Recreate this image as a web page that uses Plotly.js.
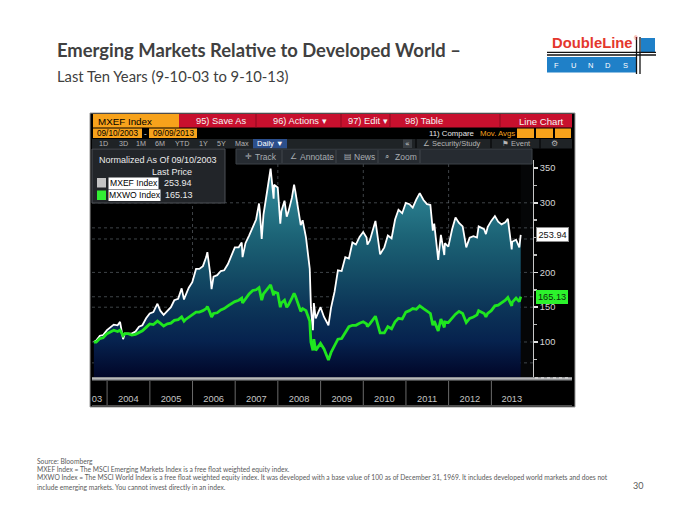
<!DOCTYPE html>
<html>
<head>
<meta charset="utf-8">
<script src="https://cdn.plot.ly/plotly-3.0.1.min.js"></script>
<style>html,body{margin:0;padding:0;background:#fff;}#chart{width:700px;height:525px;}</style>
</head>
<body>
<div id="chart"></div>
<script>
// ---------------- DATA (normalized to 100 on 09/10/2003) ----------------
const dates = [
'2003-09-10','2003-09-30','2003-10-31','2003-11-28','2003-12-31',
'2004-01-30','2004-02-27','2004-03-31','2004-04-21','2004-05-17','2004-05-31','2004-06-30','2004-07-30','2004-08-31','2004-09-30','2004-10-29','2004-11-30','2004-12-31',
'2005-01-31','2005-03-07','2005-03-31','2005-04-29','2005-05-31','2005-06-30','2005-07-29','2005-08-31','2005-09-30','2005-10-20','2005-10-31','2005-11-30','2005-12-30',
'2006-01-31','2006-02-28','2006-03-31','2006-04-28','2006-05-08','2006-05-31','2006-06-13','2006-06-30','2006-07-31','2006-08-31','2006-09-29','2006-10-31','2006-11-30','2006-12-29',
'2007-01-31','2007-02-26','2007-03-05','2007-03-30','2007-04-30','2007-05-31','2007-06-29','2007-07-24','2007-07-31','2007-08-16','2007-08-31','2007-09-28','2007-10-31','2007-11-26','2007-11-30','2007-12-31',
'2008-01-22','2008-01-31','2008-02-27','2008-03-17','2008-03-31','2008-04-30','2008-05-19','2008-05-30','2008-06-30','2008-07-15','2008-07-31','2008-08-29','2008-09-30','2008-10-10','2008-10-27','2008-11-04','2008-11-20','2008-12-31',
'2009-01-30','2009-02-27','2009-03-09','2009-03-31','2009-04-30','2009-05-29','2009-06-30','2009-07-31','2009-08-31','2009-09-30','2009-10-30','2009-11-30','2009-12-31',
'2010-01-29','2010-02-05','2010-02-26','2010-03-31','2010-04-15','2010-05-25','2010-06-30','2010-07-30','2010-08-31','2010-09-30','2010-10-29','2010-11-30','2010-12-31',
'2011-01-31','2011-02-28','2011-03-31','2011-04-29','2011-05-31','2011-06-30','2011-07-29','2011-08-19','2011-08-31','2011-10-04','2011-10-27','2011-11-25','2011-11-30','2011-12-30',
'2012-01-31','2012-02-29','2012-03-30','2012-04-30','2012-05-31','2012-06-29','2012-07-31','2012-08-31','2012-09-14','2012-10-31','2012-11-15','2012-11-30','2012-12-31',
'2013-01-31','2013-02-28','2013-03-29','2013-04-30','2013-05-22','2013-06-24','2013-06-28','2013-07-31','2013-08-28','2013-09-09'
];
const mxef = [
100,102,109,110,117,
121,125,124,129,104,112,112,112,115,122,124,134,141,
143,155,145,139,145,150,160,162,177,161,166,178,186,
205,205,209,222,229,200,176,194,196,202,203,212,225,236,
236,243,222,242,253,265,276,299,288,248,283,313,349,306,326,322,
270,288,303,280,287,307,326,316,287,268,275,250,205,150,117,156,134,150,
136,126,124,149,172,203,202,222,220,243,240,251,258,
250,240,246,264,274,226,236,253,249,276,290,285,300,
298,293,305,314,304,298,297,260,270,218,254,225,242,237,
262,279,271,266,236,250,252,250,266,262,255,265,274,
281,273,269,272,277,233,244,247,236,253.94
];
const mxwo = [
100,100,105,106,112,
115,117,115,117,109,112,112,110,111,114,116,121,126,
125,130,127,123,126,127,131,132,136,130,132,136,139,
143,143,145,148,151,142,136,141,142,146,148,152,155,158,
160,163,156,162,169,174,175,178,172,160,169,175,182,167,172,170,
150,156,160,150,153,163,170,166,150,144,148,145,130,100,88,104,88,98,
90,80,74,85,95,104,105,113,122,124,124,127,129,
126,122,126,134,137,113,113,122,119,129,134,133,143,
145,148,147,152,148,144,141,124,130,116,133,121,129,128,
134,140,144,141,128,134,136,139,145,141,136,141,145,
152,153,156,160,164,152,157,163,158,165.13
];
const seriesNames = ['MXEF Index', 'MXWO Index'];
const yTicks = [100, 150, 200, 300, 350];          // 250 is hidden under the last-price box
const yMinor = [75, 125, 175, 225, 250, 275, 325];
const gridVals = [300, 264, 248, 200, 165, 150, 100, 70];
const yearLabels = ['03','2004','2005','2006','2007','2008','2009','2010','2011','2012','2013'];
const yearLabelDates = ['2003-10-06','2004-07-01','2005-07-01','2006-07-01','2007-07-01','2008-07-01','2009-07-01','2010-07-01','2011-07-01','2012-07-01','2013-06-25'];
const yearStarts = ['2004-01-01','2005-01-01','2006-01-01','2007-01-01','2008-01-01','2009-01-01','2010-01-01','2011-01-01','2012-01-01','2013-01-01'];
const gridYears = ['2006-01-01','2008-01-01','2010-01-01','2012-01-01'];
const baseDate = '09/10/2003';
const endDate = '09/09/2013';

// ---------------- GEOMETRY HELPERS ----------------
const L = 92, R = 533, T = 160, B = 377;
const W = R - L, H = B - T;
const px = x => (x - L) / W;
const py = y => (B - y) / H;
const BB = "'Liberation Sans', Arial, sans-serif";
const SYM = "'DejaVu Sans', sans-serif";
const SLIDE = "Lato, 'Liberation Sans', sans-serif";

const shapes = [];
const annotations = [];
function rect(x0, y0, x1, y1, fill, line, layer, lw) {
  shapes.push({type:'rect', xref:'paper', yref:'paper', x0:px(x0), x1:px(x1), y0:py(y1), y1:py(y0),
    fillcolor: fill, line:{color: line || 'rgba(0,0,0,0)', width: lw || (line ? 1 : 0)}, layer: layer || 'above'});
}
function seg(x0, y0, x1, y1, color, width, dash, layer) {
  shapes.push({type:'line', xref:'paper', yref:'paper', x0:px(x0), x1:px(x1), y0:py(y0), y1:py(y1),
    line:{color: color, width: width || 1, dash: dash || 'solid'}, layer: layer || 'above'});
}
function txt(x, y, text, size, color, family, xanchor, extra) {
  annotations.push(Object.assign({xref:'paper', yref:'paper', x:px(x), y:py(y), text:text, showarrow:false,
    xanchor: xanchor || 'left', yanchor:'middle', font:{size:size, color:color, family: family || BB}}, extra || {}));
}

// ---------------- BLOOMBERG FRAME ----------------
rect(90, 113, 575, 407, '#000000', '#9a9a9a', 'below');
// row 1
rect(93, 114, 179, 127.5, '#f7a21b');
rect(179, 114, 572, 127.5, '#c8102e');
[256, 341, 390, 500].forEach(x => seg(x, 114, x, 127.5, '#8a0a1e', 1));
txt(96, 121, 'MXEF Index', 9.8, '#000000');
txt(194, 121, '95) Save As', 9.3, '#f4f4f4');
txt(271, 121, '96) Actions ▾', 9.3, '#f4f4f4');
txt(346, 121, '97) Edit ▾', 9.3, '#f4f4f4');
txt(403, 121, '98) Table', 9.3, '#f4f4f4');
txt(566, 121, 'Line Chart', 9.6, '#f4f4f4', BB, 'right');
// row 2
rect(93, 128.5, 142, 138, '#f7a21b');
rect(149, 128.5, 197, 138, '#f7a21b');
txt(117.5, 133.5, baseDate, 8.2, '#000000', BB, 'center');
txt(145.5, 133.5, '-', 8, '#ffffff', BB, 'center');
txt(173, 133.5, endDate, 8.2, '#000000', BB, 'center');
txt(476, 133.5, '11) Compare', 7.8, '#e6e6e6', BB, 'right');
txt(478, 133.5, 'Mov. Avgs', 7.8, '#f7a21b');
rect(517, 128.5, 534, 138, '#f7a21b');
rect(536, 128.5, 553, 138, '#f7a21b');
rect(555, 128.5, 571, 138, '#f7a21b');
// row 3
rect(92, 139, 572, 148.5, '#1f2326');
const btns = [['1D',103],['3D',123],['1M',141],['6M',160],['YTD',182],['1Y',203],['5Y',221],['Max',242]];
btns.forEach(b => txt(b[1], 143.8, b[0], 7.2, '#b5b5b5', BB, 'center'));
rect(253, 139, 287, 148.5, '#2c4f8c');
txt(270, 143.8, 'Daily ▼', 7.6, '#ffffff', BB, 'center');
rect(403, 139.5, 412, 148, '#3a3f44');
txt(407.5, 143.8, '«', 7.5, '#cfcfcf', SYM, 'center');
txt(421, 143.8, '∠', 7.5, '#b5b5b5', SYM);
txt(430, 143.8, 'Security/Study', 7.5, '#b5b5b5');
txt(500, 143.8, '⚑', 7.5, '#b5b5b5', SYM);
txt(509, 143.8, 'Event', 7.5, '#b5b5b5');
txt(554, 143.8, '⚙', 8, '#b5b5b5', SYM, 'center');
[416, 491, 540].forEach(x => seg(x, 139, x, 148.5, '#000000', 1));

// ---------------- PLOT AREA DECORATION ----------------
shapes.push({type:'rect', xref:'x', yref:'paper', x0: dates[dates.length-1], x1: '2014-01-31', y0:0, y1:1,
  fillcolor:'#050607', line:{width:0}, layer:'below'});
gridVals.forEach(v => shapes.push({type:'line', xref:'paper', yref:'y', x0:0, x1:1, y0:v, y1:v,
  line:{color:'rgba(140,150,160,0.45)', width:1, dash:'dot'}, layer:'below'}));
gridYears.forEach(d => shapes.push({type:'line', xref:'x', yref:'paper', x0:d, x1:d, y0:0, y1:1,
  line:{color:'rgba(140,150,160,0.45)', width:1, dash:'dot'}, layer:'below'}));
rect(92, 377, 572, 380.5, '#8d8f92');
seg(92, 378.6, 572, 378.6, '#c9c9c9', 0.8);
seg(535, 377.8, 570, 377.8, '#dcdcdc', 1.2, 'dot');
yearStarts.forEach(d => shapes.push({type:'line', xref:'x', yref:'paper', x0:d, x1:d, y0:py(381), y1:py(405),
  line:{color:'#6a6a6a', width:1}, layer:'above'}));
seg(92, 405.5, 572, 405.5, '#505050', 1);

// toolbar overlay
rect(236, 149, 532, 164, '#262b31', '#3c4248');
txt(243, 156.5, '✛', 8, '#a9adb1', SYM);
txt(253, 156.5, 'Track', 8.5, '#a9adb1');
txt(288, 156.5, '∠', 8, '#a9adb1', SYM);
txt(298, 156.5, 'Annotate', 8.5, '#a9adb1');
txt(342, 156.5, '▤', 8, '#a9adb1', SYM);
txt(352, 156.5, 'News', 8.5, '#a9adb1');
txt(383, 156.5, '⌕', 8, '#a9adb1', SYM);
txt(393, 156.5, 'Zoom', 8.5, '#a9adb1');
[282, 336, 378, 420].forEach(x => seg(x, 150, x, 163, '#40464c', 1));

// legend box
rect(92, 149, 225, 203, 'rgba(36,39,43,0.95)', '#4c5157');
txt(97, 160, 'Normalized As Of ' + baseDate, 9, '#ececec');
txt(172, 171.5, 'Last Price', 9, '#ececec', BB, 'center');
rect(97, 178, 106, 187.5, '#c4c4c4');
rect(108.5, 177.5, 158.5, 189, '#ffffff');
txt(133.5, 183.3, seriesNames[0], 8.6, '#000000', BB, 'center');
txt(162, 183.3, mxef[mxef.length-1].toFixed(2), 9, '#ececec');
rect(97, 190.5, 106, 200, '#33ee33');
rect(108.5, 189.5, 160.5, 201, '#ffffff');
txt(134.5, 195.3, seriesNames[1], 8.6, '#000000', BB, 'center');
txt(163, 195.3, mxwo[mxwo.length-1].toFixed(2), 9, '#ececec');

// last value boxes on right axis
annotations.push({xref:'paper', yref:'y', x:px(536), y:mxef[mxef.length-1], xanchor:'left', yanchor:'middle',
  text: mxef[mxef.length-1].toFixed(2), showarrow:false, bgcolor:'#ffffff', bordercolor:'#8a8a8a', borderwidth:1, borderpad:1.5,
  font:{size:9.2, color:'#111111', family:BB}});
annotations.push({xref:'paper', yref:'y', x:px(536), y:mxwo[mxwo.length-1], xanchor:'left', yanchor:'middle',
  text: mxwo[mxwo.length-1].toFixed(2), showarrow:false, bgcolor:'#2cf22c', bordercolor:'#2cf22c', borderwidth:1, borderpad:1,
  font:{size:9.2, color:'#0c2a0c', family:BB}});

// ---------------- SLIDE TEXT ----------------
txt(55, 50, '<b>Emerging Markets Relative to Developed World –</b>', 18.4, '#404040', SLIDE);
txt(55, 76, 'Last Ten Years (9-10-03 to 9-10-13)', 14.8, '#404040', SLIDE);
const footer = [
  'Source: Bloomberg',
  'MXEF Index = The MSCI Emerging Markets Index is a free float weighted equity index.',
  'MXWO Index = The MSCI World Index is a free float weighted equity index. It was developed with a base value of 100 as of December 31, 1969. It includes developed world markets and does not',
  'include emerging markets. You cannot invest directly in an index.'
];
footer.forEach((t, i) => txt(35, 460.5 + i * 8.7, t, 6.7, '#5a5a5a', SLIDE));
txt(638, 485, '30', 9, '#5a5a5a', SLIDE, 'center');

// logo
rect(547, 57, 636, 72.5, '#1f80c8');
rect(641, 38, 655, 52, '#1f80c8');
seg(547, 52.3, 656, 52.3, '#111111', 1.3);
seg(547, 55, 656, 55, '#111111', 1.3);
seg(636.5, 37, 636.5, 74, '#111111', 1.3);
seg(640, 37, 640, 74, '#111111', 1.3);
txt(550, 43.5, '<b>DoubleLine</b>', 14.8, '#e4372d', "'Liberation Sans', sans-serif");
txt(631.5, 38.5, '®', 5, '#e4372d', "'Liberation Sans', sans-serif");
['F','U','N','D','S'].forEach((c, i) => txt(556 + i * 17.3, 65, c, 7.5, '#ffffff', "'Liberation Sans', sans-serif", 'center'));

// ---------------- TRACES ----------------
const traces = [
  {type:'scatter', mode:'lines', x:dates, y:mxef, name:seriesNames[0],
   line:{color:'#ffffff', width:1.8},
   fill:'tozeroy',
   fillgradient:{type:'vertical', start:50, stop:350,
     colorscale:[[0,'#010628'],[0.17,'#06224e'],[0.33,'#0c3558'],[0.5,'#144d66'],[0.67,'#1c6376'],[0.83,'#287a8b'],[1,'#3a8e9e']]}},
  {type:'scatter', mode:'lines', x:dates, y:mxwo, name:seriesNames[1],
   line:{color:'#1fe61f', width:2.8}}
];

const layout = {
  width:700, height:525,
  margin:{l:L, r:700-R, t:T, b:525-B, pad:0},
  paper_bgcolor:'#ffffff', plot_bgcolor:'#1c1f23',
  showlegend:false,
  xaxis:{type:'date', range:['2003-08-25','2013-12-23'], tickvals:yearLabelDates, ticktext:yearLabels,
    ticks:'outside', ticklen:13, tickcolor:'rgba(0,0,0,0)', showgrid:false, zeroline:false, showline:false,
    tickfont:{size:9.3, color:'#c4c4c4', family:BB}, fixedrange:true},
  yaxis:{range:[49.7, 361.5], side:'right', tickvals:yTicks, ticks:'outside', ticklen:4, tickcolor:'#e0e0e0', tickwidth:1.5,
    showline:true, linecolor:'#c8c8c8', linewidth:1, showgrid:false, zeroline:false,
    minor:{tickvals:yMinor, ticks:'outside', ticklen:3, tickcolor:'#bdbdbd'},
    tickfont:{size:9.3, color:'#d6d6d6', family:BB}, fixedrange:true},
  shapes:shapes,
  annotations:annotations
};

Plotly.newPlot('chart', traces, layout, {displayModeBar:false, staticPlot:true});
</script>
</body>
</html>
